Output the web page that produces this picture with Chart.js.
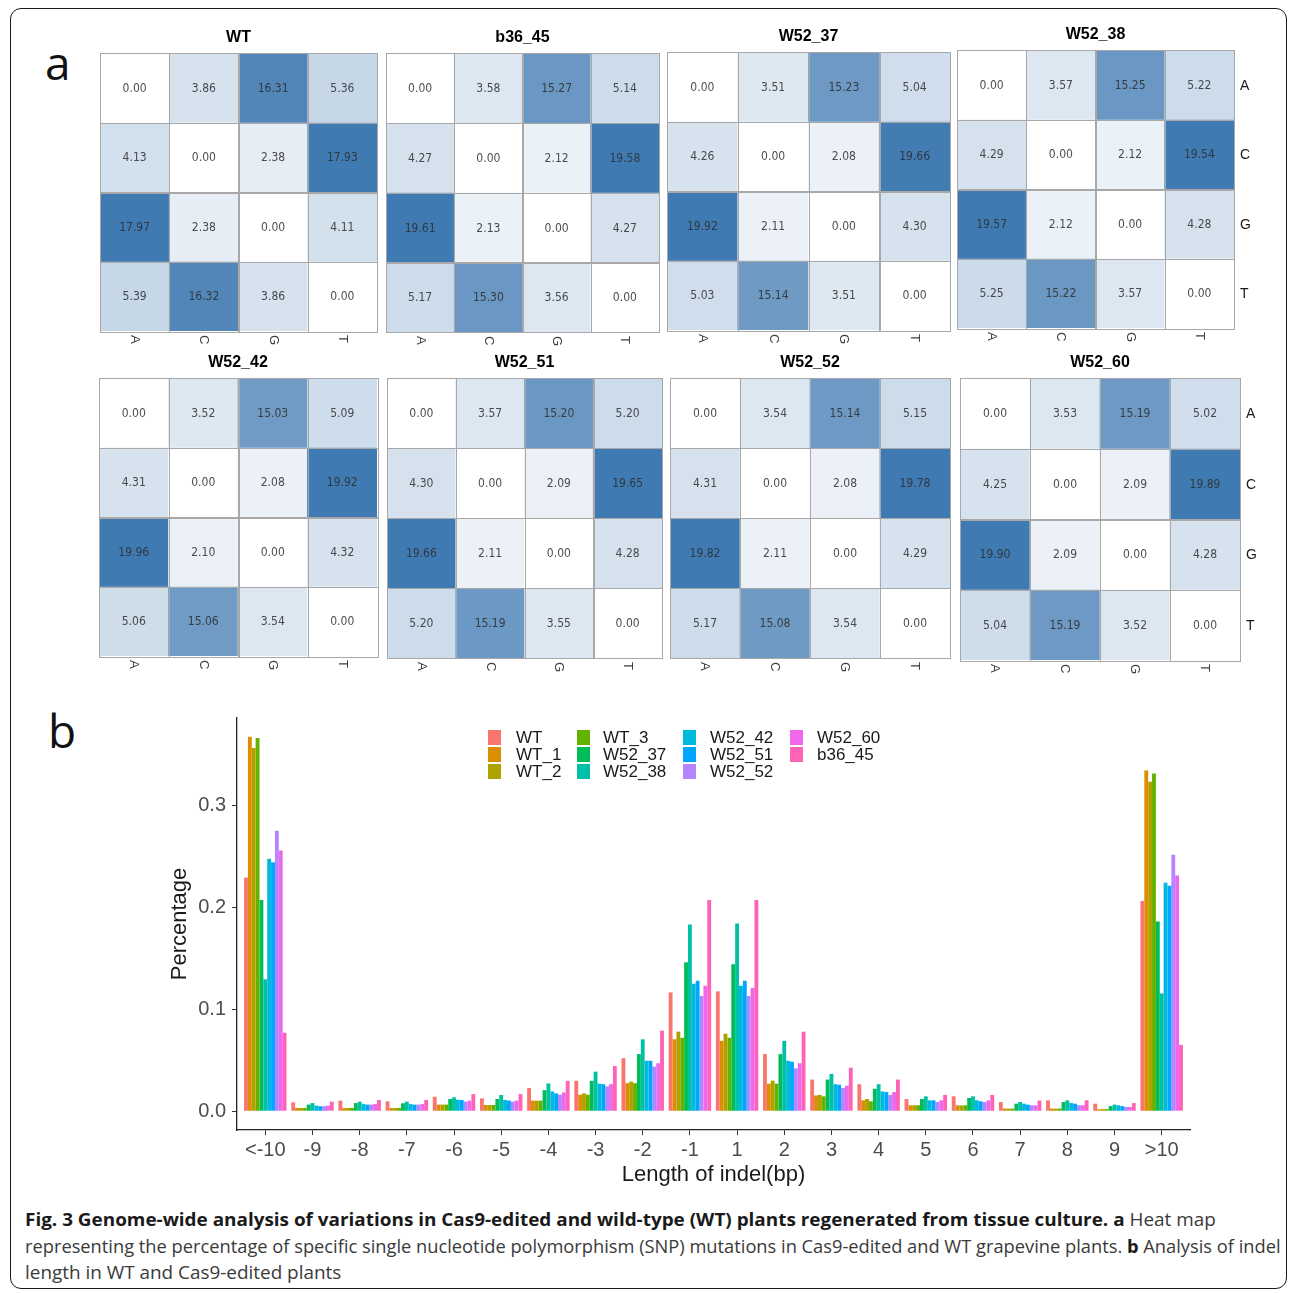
<!DOCTYPE html>
<html><head><meta charset="utf-8">
<script src="https://cdn.jsdelivr.net/npm/chart.js@4.4.1/dist/chart.umd.min.js"></script>
<style>
html,body{margin:0;padding:0;background:#fff;}
#root{position:relative;width:1290px;height:1293px;overflow:hidden;background:#fff;}
canvas{position:absolute;}
.frame{position:absolute;left:10px;top:8px;width:1277px;height:1281px;border:1.5px solid #1a1a1a;border-radius:11px;box-sizing:border-box;}
.letter{position:absolute;font-family:'Open Sans','Liberation Sans',sans-serif;font-size:46px;color:#111;line-height:1;}
.cap{position:absolute;left:25px;white-space:nowrap;font-family:'Open Sans',sans-serif;font-size:18px;color:#3a3a3a;transform-origin:0 50%;line-height:24px;}
.cap b{color:#1a1a1a;font-weight:700;}
</style></head>
<body>
<div id="root">
  <div class="frame"></div>
  <div class="letter" style="left:45px;top:39px;">a</div>
  <div class="letter" style="left:48px;top:707px;">b</div>
  <div class="cap" data-w="1191" style="top:1207px;"><b>Fig. 3 Genome-wide analysis of variations in Cas9-edited and wild-type (WT) plants regenerated from tissue culture. a</b> Heat map</div>
  <div class="cap" data-w="1256" style="top:1234px;">representing the percentage of specific single nucleotide polymorphism (SNP) mutations in Cas9-edited and WT grapevine plants. <b>b</b> Analysis of indel</div>
  <div class="cap" data-w="316" style="top:1260px;">length in WT and Cas9-edited plants</div>
</div>
<script>
// ---------------- DATA ----------------
const bases = ['A', 'C', 'G', 'T'];

// heat map values: rows (A,C,G,T) x columns (A,C,G,T)
const hm_WT     = [[0.00, 3.86, 16.31, 5.36], [4.13, 0.00, 2.38, 17.93], [17.97, 2.38, 0.00, 4.11], [5.39, 16.32, 3.86, 0.00]];
const hm_b36_45 = [[0.00, 3.58, 15.27, 5.14], [4.27, 0.00, 2.12, 19.58], [19.61, 2.13, 0.00, 4.27], [5.17, 15.30, 3.56, 0.00]];
const hm_W52_37 = [[0.00, 3.51, 15.23, 5.04], [4.26, 0.00, 2.08, 19.66], [19.92, 2.11, 0.00, 4.30], [5.03, 15.14, 3.51, 0.00]];
const hm_W52_38 = [[0.00, 3.57, 15.25, 5.22], [4.29, 0.00, 2.12, 19.54], [19.57, 2.12, 0.00, 4.28], [5.25, 15.22, 3.57, 0.00]];
const hm_W52_42 = [[0.00, 3.52, 15.03, 5.09], [4.31, 0.00, 2.08, 19.92], [19.96, 2.10, 0.00, 4.32], [5.06, 15.06, 3.54, 0.00]];
const hm_W52_51 = [[0.00, 3.57, 15.20, 5.20], [4.30, 0.00, 2.09, 19.65], [19.66, 2.11, 0.00, 4.28], [5.20, 15.19, 3.55, 0.00]];
const hm_W52_52 = [[0.00, 3.54, 15.14, 5.15], [4.31, 0.00, 2.08, 19.78], [19.82, 2.11, 0.00, 4.29], [5.17, 15.08, 3.54, 0.00]];
const hm_W52_60 = [[0.00, 3.53, 15.19, 5.02], [4.25, 0.00, 2.09, 19.89], [19.90, 2.09, 0.00, 4.28], [5.04, 15.19, 3.52, 0.00]];

// indel length categories
const categories = ['<-10','-9','-8','-7','-6','-5','-4','-3','-2','-1','1','2','3','4','5','6','7','8','9','>10'];
const yTicks = [0, 0.1, 0.2, 0.3];
const seriesNames = ['WT','WT_1','WT_2','WT_3','W52_37','W52_38','W52_42','W52_51','W52_52','W52_60','b36_45'];

const v_WT     = [0.229, 0.0087, 0.0104, 0.0097, 0.0142, 0.0126, 0.0227, 0.0298, 0.052, 0.1165, 0.1175, 0.056, 0.031, 0.0265, 0.012, 0.0146, 0.009, 0.0107, 0.0074, 0.206];
const v_WT_1   = [0.367, 0.0032, 0.0032, 0.0032, 0.0065, 0.0061, 0.0104, 0.0162, 0.0275, 0.0705, 0.069, 0.027, 0.0155, 0.0107, 0.0058, 0.0058, 0.0026, 0.0026, 0.002, 0.334];
const v_WT_2   = [0.356, 0.0032, 0.0032, 0.0032, 0.0065, 0.0061, 0.0104, 0.0175, 0.029, 0.078, 0.076, 0.030, 0.016, 0.012, 0.0058, 0.0058, 0.0026, 0.0026, 0.002, 0.323];
const v_WT_3   = [0.366, 0.0032, 0.0032, 0.0032, 0.0065, 0.0061, 0.0104, 0.0162, 0.0275, 0.072, 0.072, 0.027, 0.0146, 0.0097, 0.0058, 0.0058, 0.0026, 0.0026, 0.002, 0.331];
const v_W52_37 = [0.207, 0.0065, 0.008, 0.0078, 0.012, 0.012, 0.0207, 0.0298, 0.056, 0.146, 0.144, 0.056, 0.031, 0.022, 0.012, 0.013, 0.0074, 0.009, 0.005, 0.186];
const v_W52_38 = [0.1295, 0.008, 0.0094, 0.0094, 0.0136, 0.0159, 0.0272, 0.0388, 0.0705, 0.183, 0.184, 0.069, 0.0366, 0.0265, 0.0146, 0.0146, 0.009, 0.0107, 0.0065, 0.1155];
const v_W52_42 = [0.2476, 0.0055, 0.007, 0.007, 0.0113, 0.011, 0.0194, 0.027, 0.0495, 0.125, 0.123, 0.0495, 0.0265, 0.0194, 0.0107, 0.0107, 0.0074, 0.008, 0.0058, 0.224];
const v_W52_51 = [0.244, 0.0049, 0.0065, 0.0065, 0.011, 0.0104, 0.0175, 0.0265, 0.0495, 0.128, 0.128, 0.0485, 0.026, 0.0188, 0.0107, 0.0097, 0.0065, 0.0074, 0.005, 0.221];
const v_W52_52 = [0.275, 0.0049, 0.0065, 0.0065, 0.0094, 0.0094, 0.0162, 0.0243, 0.0437, 0.113, 0.113, 0.042, 0.0227, 0.016, 0.009, 0.009, 0.0058, 0.0058, 0.0042, 0.2515];
const v_W52_60 = [0.2557, 0.0055, 0.007, 0.007, 0.0104, 0.0104, 0.0184, 0.0265, 0.047, 0.123, 0.121, 0.047, 0.025, 0.0188, 0.0107, 0.0107, 0.0058, 0.0058, 0.0042, 0.231];
const v_b36_45 = [0.077, 0.0094, 0.011, 0.011, 0.0168, 0.0168, 0.0298, 0.0443, 0.079, 0.207, 0.207, 0.078, 0.0427, 0.031, 0.016, 0.016, 0.0104, 0.0107, 0.008, 0.065];
const seriesValues = [v_WT, v_WT_1, v_WT_2, v_WT_3, v_W52_37, v_W52_38, v_W52_42, v_W52_51, v_W52_52, v_W52_60, v_b36_45];

// ---------------- STYLE / LAYOUT ----------------
const seriesColors = ['#F8766D','#DB8E00','#AEA200','#64B200','#00BD5C','#00C1A7','#00BADE','#00A6FF','#B385FF','#EF67EB','#FF63B6'];
const FAM = "'Liberation Sans', Arial, sans-serif";
const NARROW = "'Liberation Sans Narrow', 'DejaVu Sans Condensed', 'Liberation Sans', sans-serif";
const root = document.getElementById('root');

function heatColor(v, maxV) {
  const t = Math.max(0, Math.min(1, v / maxV));
  const lo = [255, 255, 255], hi = [64, 122, 178]; // white -> steelblue
  const c = lo.map((l, i) => Math.round(l + (hi[i] - l) * t));
  return `rgb(${c[0]},${c[1]},${c[2]})`;
}

const heatPlugin = {
  id: 'heat',
  afterDatasetsDraw(chart, args, opts) {
    const ctx = chart.ctx, area = chart.chartArea;
    const xs = chart.scales.x;
    ctx.save();
    ctx.strokeStyle = '#a8a8a8'; ctx.lineWidth = 1;
    ctx.font = '12px ' + NARROW; ctx.textAlign = 'center'; ctx.textBaseline = 'middle';
    chart.data.datasets.forEach((ds, r) => {
      chart.getDatasetMeta(r).data.forEach((bar, c) => {
        const p = bar.getProps(['x', 'y', 'base', 'width'], true);
        const left = p.x - p.width / 2, top = Math.min(p.y, p.base), h = Math.abs(p.base - p.y);
        ctx.strokeRect(Math.round(left) + 0.5, Math.round(top) + 0.5, Math.round(p.width), Math.round(h));
        ctx.fillStyle = 'rgba(45,45,45,0.85)';
        ctx.fillText(opts.vals[r][c].toFixed(2), p.x, top + h / 2 + 1);
      });
    });
    ctx.fillStyle = '#000'; ctx.font = 'bold 16px ' + FAM;
    ctx.fillText(opts.title, (area.left + area.right) / 2, area.top - 15);
    ctx.fillStyle = '#3d3d3d'; ctx.font = '13px ' + FAM;
    chart.data.labels.forEach((lab, i) => {
      const x = xs.getPixelForValue(i);
      ctx.save(); ctx.translate(x, area.bottom + 4); ctx.rotate(Math.PI / 2);
      ctx.textAlign = 'left'; ctx.textBaseline = 'middle'; ctx.fillText(lab, 0, 0);
      ctx.restore();
    });
    if (opts.rows) {
      ctx.fillStyle = '#1a1a1a'; ctx.font = '14px ' + FAM; ctx.textAlign = 'left';
      chart.data.datasets.forEach((ds, r) => {
        const bar = chart.getDatasetMeta(r).data[3];
        const p = bar.getProps(['y', 'base'], true);
        ctx.fillText(ds.label, area.right + 6, (p.y + p.base) / 2 + 1);
      });
    }
    ctx.restore();
  }
};

const panels = [
  {title: 'WT',     vals: hm_WT,     x: 100, y: 53, w: 277, h: 278},
  {title: 'b36_45', vals: hm_b36_45, x: 386, y: 53, w: 273, h: 279},
  {title: 'W52_37', vals: hm_W52_37, x: 667, y: 52, w: 283, h: 278},
  {title: 'W52_38', vals: hm_W52_38, x: 957, y: 50, w: 277, h: 278, rows: true},
  {title: 'W52_42', vals: hm_W52_42, x: 99,  y: 378, w: 278, h: 278},
  {title: 'W52_51', vals: hm_W52_51, x: 387, y: 378, w: 275, h: 280},
  {title: 'W52_52', vals: hm_W52_52, x: 670, y: 378, w: 280, h: 280},
  {title: 'W52_60', vals: hm_W52_60, x: 960, y: 378, w: 280, h: 282, rows: true}
];

panels.forEach(p => {
  const cv = document.createElement('canvas');
  const W = p.w + 40, H = p.h + 56;
  cv.width = W; cv.height = H;
  cv.style.left = (p.x - 10) + 'px'; cv.style.top = (p.y - 30) + 'px';
  cv.style.width = W + 'px'; cv.style.height = H + 'px';
  root.appendChild(cv);
  const maxV = Math.max(...p.vals.flat());
  new Chart(cv, {
    type: 'bar',
    data: {
      labels: bases,
      datasets: bases.map((rb, r) => ({
        label: rb,
        data: bases.map(() => 1),
        backgroundColor: bases.map((cb, c) => heatColor(p.vals[r][c], maxV)),
        borderWidth: 0, barPercentage: 1, categoryPercentage: 1
      }))
    },
    options: {
      responsive: false, animation: false, devicePixelRatio: 1,
      layout: {padding: {left: 10, top: 30, right: 30, bottom: 26}},
      plugins: {legend: {display: false}, tooltip: {enabled: false}, heat: {vals: p.vals, title: p.title, rows: !!p.rows}},
      scales: {
        x: {display: false, stacked: true},
        y: {display: false, stacked: true, min: 0, max: 4, reverse: true}
      }
    },
    plugins: [heatPlugin]
  });
});

// ---------------- BAR CHART ----------------
const BX = 150, BY = 700;
const legendPlugin = {
  id: 'gglegend',
  afterDraw(chart) {
    const ctx = chart.ctx;
    const colX = [488, 577, 683, 790], txtX = [516, 603, 710, 817], rowY = [730, 747, 764];
    ctx.save();
    ctx.font = '17px ' + FAM; ctx.textBaseline = 'middle'; ctx.textAlign = 'left';
    chart.data.datasets.forEach((ds, k) => {
      const col = Math.floor(k / 3), row = k % 3;
      ctx.fillStyle = ds.backgroundColor;
      ctx.fillRect(colX[col] - BX, rowY[row] - BY, 13, 15);
      ctx.fillStyle = '#1a1a1a';
      ctx.fillText(ds.label, txtX[col] - BX, rowY[row] - BY + 8);
    });
    ctx.restore();
  }
};

const bcv = document.createElement('canvas');
bcv.width = 1060; bcv.height = 492;
bcv.style.left = BX + 'px'; bcv.style.top = BY + 'px';
bcv.style.width = '1060px'; bcv.style.height = '492px';
root.appendChild(bcv);

new Chart(bcv, {
  type: 'bar',
  data: {
    datasets: seriesNames.map((n, k) => ({
      label: n,
      data: seriesValues[k].map((v, i) => ({x: i + 1, y: v})),
      backgroundColor: seriesColors[k],
      borderWidth: 0, categoryPercentage: 0.9, barPercentage: 1.0
    }))
  },
  options: {
    responsive: false, animation: false, devicePixelRatio: 1,
    layout: {padding: {left: 13, top: 15, right: 20, bottom: 0}},
    plugins: {legend: {display: false}, tooltip: {enabled: false}},
    scales: {
      x: {
        type: 'linear', min: 0.4, max: categories.length + 0.6, offset: false,
        grid: {display: true, drawOnChartArea: false, drawTicks: true, tickLength: 5, color: '#333', offset: false},
        border: {display: true, color: '#222', width: 1.3},
        ticks: {color: '#4d4d4d', font: {size: 20, family: FAM}, padding: 3, autoSkip: false, maxRotation: 0, minRotation: 0,
                callback: v => categories[v - 1]},
        afterBuildTicks: s => { s.ticks = categories.map((c, i) => ({value: i + 1})); },
        afterFit: s => { s.height = 62; },
        title: {display: true, text: 'Length of indel(bp)', color: '#1a1a1a', font: {size: 22, family: FAM}, padding: {top: 4, bottom: 4}}
      },
      y: {
        min: -0.0184, max: 0.3855,
        grid: {display: true, drawOnChartArea: false, drawTicks: true, tickLength: 5, color: '#333'},
        border: {display: true, color: '#222', width: 1.3},
        ticks: {color: '#4d4d4d', font: {size: 20, family: FAM}, padding: 6, callback: v => Number(v).toFixed(1)},
        afterBuildTicks: s => { s.ticks = yTicks.map(v => ({value: v})); },
        afterFit: s => { s.width = 74; },
        title: {display: true, text: 'Percentage', color: '#1a1a1a', font: {size: 22, family: FAM}, padding: {top: 4, bottom: 4}}
      }
    }
  },
  plugins: [legendPlugin]
});

// caption fitting
document.querySelectorAll('.cap').forEach(el => {
  const w = el.scrollWidth;
  const target = +el.dataset.w;
  el.style.transform = `scaleX(${target / w})`;
});
</script>
</body></html>
